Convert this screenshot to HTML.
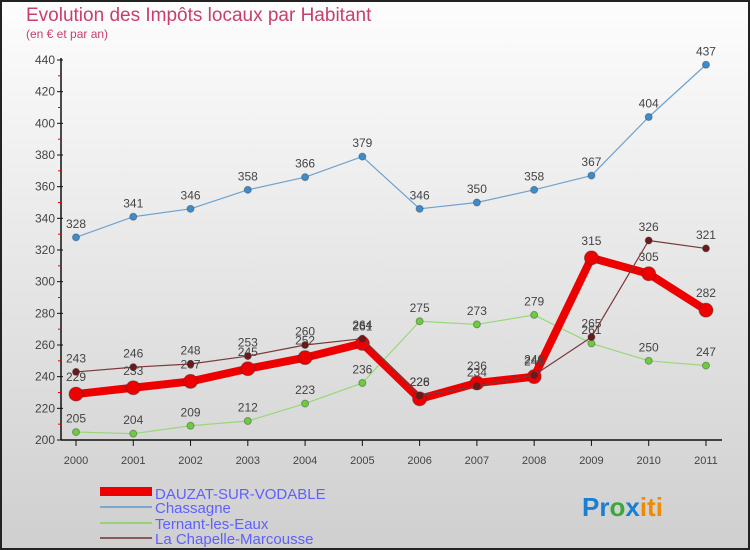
<!DOCTYPE html>
<html><head><meta charset="utf-8">
<style>
html,body{margin:0;padding:0}
body{width:750px;height:550px;overflow:hidden;font-family:"Liberation Sans",sans-serif}
svg{display:block}
</style></head>
<body>
<svg id="chart" width="750" height="550" xmlns="http://www.w3.org/2000/svg">
<defs>
<linearGradient id="bg" x1="0" y1="0" x2="0" y2="1">
<stop offset="0" stop-color="#fdfdfd"/><stop offset="1" stop-color="#cfcfcf"/>
</linearGradient>
</defs>
<rect x="1" y="1" width="748" height="548" fill="url(#bg)" stroke="#222" stroke-width="2"/>
<text x="26" y="21" font-size="19" fill="#c8406a">Evolution des Impôts locaux par Habitant</text>
<text x="26" y="38" font-size="12" fill="#c8406a">(en € et par an)</text>
<g id="axes"></g>
<g id="series"></g>
<g id="legend">
<rect x="100" y="487" width="52" height="9" fill="#e00"/>
<text x="155" y="499" font-size="15" fill="#6060ff">DAUZAT-SUR-VODABLE</text>
<rect x="100" y="506" width="52" height="2" fill="#7aa8cc"/>
<text x="155" y="513" font-size="15" fill="#6060ff">Chassagne</text>
<rect x="100" y="522" width="52" height="2" fill="#9ad07a"/>
<text x="155" y="529" font-size="15" fill="#6060ff">Ternant-les-Eaux</text>
<rect x="100" y="537" width="52" height="2" fill="#8a5a5a"/>
<text x="155" y="544" font-size="15" fill="#6060ff">La Chapelle-Marcousse</text>
</g>
<g font-size="26" font-weight="bold">
<text x="582" y="516"><tspan fill="#1a7fd4">Pr</tspan><tspan fill="#3aa83a">o</tspan><tspan fill="#1a7fd4">x</tspan><tspan fill="#f08a00">iti</tspan></text>
</g>
</svg>
<script>
const years = ["2000","2001","2002","2003","2004","2005","2006","2007","2008","2009","2010","2011"];
const yTicks = [200,220,240,260,280,300,320,340,360,380,400,420,440];
const dauzat = [229,233,237,245,252,261,226,236,240,315,305,282];
const chassagne = [328,341,346,358,366,379,346,350,358,367,404,437];
const ternant = [205,204,209,212,223,236,275,273,279,261,250,247];
const chapelle = [243,246,248,253,260,264,228,234,241,265,326,321];

const NS="http://www.w3.org/2000/svg";
const x0=76, xStep=57.27, yBase=440, yMin=200, yPer=380/240;
function xs(i){return x0+i*xStep;}
function ys(v){return yBase-(v-yMin)*yPer;}
function mk(tag,attrs,parent){const e=document.createElementNS(NS,tag);for(const k in attrs)e.setAttribute(k,attrs[k]);parent.appendChild(e);return e;}
const axes=document.getElementById('axes');
const series=document.getElementById('series');
const ya=mk('line',{x1:61,y1:58,x2:61,y2:440,stroke:'#111','stroke-width':1.5},axes);


const xa=mk('line',{x1:61,y1:440,x2:722,y2:440,stroke:'#111','stroke-width':1.5},axes);


yTicks.forEach((v,k)=>{
  const y=ys(v);
  mk('line',{x1:57,y1:y,x2:63,y2:y,stroke:'#111'},axes);
  if(k<yTicks.length-1) mk('line',{x1:58,y1:ys(v+10),x2:62,y2:ys(v+10),stroke:'#e00'},axes);
  const t=mk('text',{x:55,y:y+4,'font-size':12,fill:'#444','text-anchor':'end'},axes);
  t.textContent=v;
  
  
});
years.forEach((yr,i)=>{
  const x=xs(i);
  mk('line',{x1:x,y1:440,x2:x,y2:446,stroke:'#111'},axes);
  const t=mk('text',{x:x,y:464,'font-size':11,fill:'#444','text-anchor':'middle'},axes);
  t.textContent=yr;
  
  
});
function draw(data,name,color,dot,lw,r){
  const g=mk('g',{},series);
  
  
  const pts=data.map((v,i)=>xs(i)+','+ys(v)).join(' ');
  const pl=mk('polyline',{points:pts,fill:'none',stroke:color,'stroke-width':lw,'stroke-linejoin':'round'},g);
  
  
  data.forEach((v,i)=>{
    const c=mk('circle',{cx:xs(i),cy:ys(v),r:r,fill:dot,stroke:'#333','stroke-opacity':0.4},g);
    
    
    const t=mk('text',{x:xs(i),y:ys(v)-r-6,'font-size':12,fill:'#444','text-anchor':'middle'},g);
    t.textContent=v;
    
    
  });
}
draw(chassagne,'chassagne','#6fa2d0','#3d8ccc',1.2,3.5);
draw(ternant,'ternant','#98d878','#6ccc3c',1.2,3.5);
draw(dauzat,'dauzat','#ee0000','#ee0000',8,7);
draw(chapelle,'chapelle','#7a3a3a','#6a1a1a',1.2,3.5);
</script>
</body></html>
